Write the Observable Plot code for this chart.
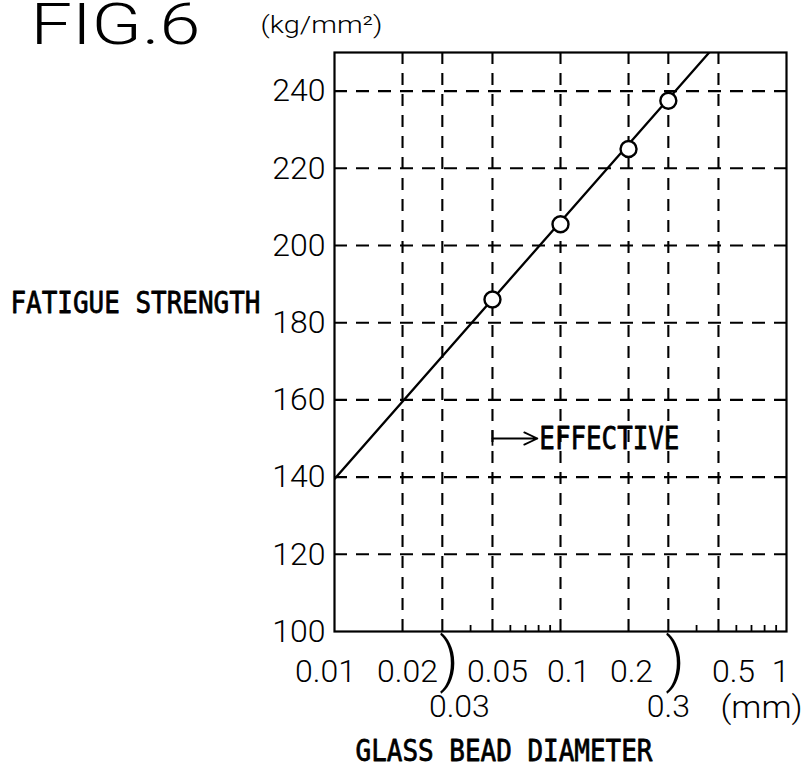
<!DOCTYPE html>
<html>
<head>
<meta charset="utf-8">
<script src="https://cdn.jsdelivr.net/npm/d3@7"></script>
<script src="https://cdn.jsdelivr.net/npm/@observablehq/plot@0.6"></script>
<style>
  html, body { margin: 0; padding: 0; background: #fff; }
</style>
</head>
<body>
<div id="chart"></div>
<script>
// ---- data ----
const yTicks = [100, 120, 140, 160, 180, 200, 220, 240];
const yGridLines = [120, 140, 160, 180, 200, 220, 240];
const xGridLines = [0.02, 0.03, 0.05, 0.1, 0.2, 0.3, 0.5];
const xLabelsRow1 = [0.01, 0.02, 0.05, 0.1, 0.2, 0.5, 1];
const xLabelsRow2 = [0.03, 0.3];
const xMinorTicks = [0.04, 0.06, 0.07, 0.08, 0.09, 0.4, 0.6, 0.7, 0.8, 0.9];

const beadDiameter = [0.05, 0.1, 0.2, 0.3];
const fatigueStrength = [186, 205.5, 225, 237.5];

const fitDiameter = [0.01, 0.455];
const fitStrength = [139.5, 250];

const effectiveFrom = 0.05;
const effectiveTo = 0.079;
const effectiveLevel = 150;

const titleText = "FIG.6";
const unitText = "(kg/mm²)";
const yLabel = "FATIGUE STRENGTH";
const xLabel = "GLASS BEAD DIAMETER";
const xUnit = "(mm)";
const effectiveText = "EFFECTIVE";

// ---- layout ----
const W = 805, H = 769;
const mL = 334, mR = 19, mT = 52, mB = 138;
const frameH = H - mT - mB;

const numFont = "Roboto, DejaVu Sans, sans-serif";
const labelFont = "DejaVu Sans Mono, monospace";
// horizontal nudges of the hand-placed diameter labels (px)
const row1Nudge = [-9, 5, 5, 8, 3, 15, -6];
const row2Nudge = [17, 0];

const points = beadDiameter.map((d, i) => ({d, s: fatigueStrength[i]}));
const fit = fitDiameter.map((d, i) => ({d, s: fitStrength[i]}));
const eff = [{from: effectiveFrom, to: effectiveTo, y: effectiveLevel}];

const labelStyle = {fontFamily: labelFont, fill: "#000", stroke: "#000", strokeWidth: 0.8};

const xLabelMarks = [
  ...xLabelsRow1.map((v, i) => Plot.text([v], {x: d => d, frameAnchor: "bottom", text: d => String(d), lineAnchor: "top", dy: 28, dx: row1Nudge[i], fontSize: 32, fontFamily: numFont, fontWeight: 300})),
  ...xLabelsRow2.map((v, i) => Plot.text([v], {x: d => d, frameAnchor: "bottom", text: d => String(d), lineAnchor: "top", dy: 63, dx: row2Nudge[i], fontSize: 32, fontFamily: numFont, fontWeight: 300}))
];

const chart = Plot.plot({
  width: W,
  height: H,
  marginLeft: mL,
  marginRight: mR,
  marginTop: mT,
  marginBottom: mB,
  style: {background: "#fff", color: "#000", fontFamily: numFont},
  x: {type: "log", domain: [0.01, 1], axis: null},
  y: {domain: [100, 250], axis: null},
  marks: [
    Plot.gridX(xGridLines, {stroke: "#000", strokeOpacity: 1, strokeWidth: 2.1, strokeDasharray: "12,9"}),
    Plot.gridY(yGridLines, {stroke: "#000", strokeOpacity: 1, strokeWidth: 2.1, strokeDasharray: "13,9"}),
    Plot.tickX(xMinorTicks, {x: d => d, insetTop: frameH - 6, stroke: "#000", strokeWidth: 1.8}),
    Plot.frame({stroke: "#000", strokeWidth: 2.2}),
    Plot.axisY(yTicks, {tickSize: 0, tickPadding: 9, fontSize: 32, fontFamily: numFont, fontWeight: 300, label: null, tickFormat: d => String(d)}),
    ...xLabelMarks,
    Plot.text(xLabelsRow2, {x: d => d, frameAnchor: "bottom", text: () => ")", lineAnchor: "top", dy: 6, dx: -3, textAnchor: "start", fontSize: 60, fontFamily: numFont, fontWeight: 300}),
    Plot.line(fit, {x: "d", y: "s", stroke: "#000", strokeWidth: 2.3, clip: true}),
    Plot.dot(points, {x: "d", y: "s", r: 8, stroke: "#000", strokeWidth: 2.4, fill: "#fff"}),
    Plot.arrow(eff, {x1: "from", x2: "to", y1: "y", y2: "y", stroke: "#000", strokeWidth: 1.8, headLength: 12, headAngle: 50}),
    Plot.ruleX(eff, {x: "from", y1: d => d.y - 2, y2: d => d.y + 2, stroke: "#000", strokeWidth: 1.8}),
    Plot.text(eff, {x: "to", y: "y", text: () => effectiveText, textAnchor: "start", lineAnchor: "middle", dx: 2, fontSize: 32, ...labelStyle}),
    // titles and axis names
    Plot.text([titleText], {frameAnchor: "top-left", textAnchor: "start", lineAnchor: "bottom", dx: 30 - mL, dy: 43 - mT, fontSize: 58, fontFamily: numFont, fontWeight: 300}),
    Plot.text([unitText], {frameAnchor: "top-left", textAnchor: "start", lineAnchor: "bottom", dx: 260 - mL, dy: 32 - mT, fontSize: 24, fontFamily: numFont, fontWeight: 300}),
    Plot.text([yLabel], {frameAnchor: "top-left", textAnchor: "start", lineAnchor: "bottom", dx: 10 - mL, dy: 312 - mT, fontSize: 31, ...labelStyle}),
    Plot.text([xLabel], {frameAnchor: "top-left", textAnchor: "start", lineAnchor: "bottom", dx: 355 - mL, dy: 760 - mT, fontSize: 31, ...labelStyle}),
    Plot.text([xUnit], {frameAnchor: "top-left", textAnchor: "start", lineAnchor: "bottom", dx: 720 - mL, dy: 717 - mT, fontSize: 32, fontFamily: numFont, fontWeight: 300})
  ]
});

document.getElementById("chart").appendChild(chart);

// fit text widths to the reference
const fitWidths = new Map([
  [titleText, 170],
  [unitText, 122],
  [yLabel, 250],
  [xLabel, 297],
  [xUnit, 82],
  [effectiveText, 140]
]);
d3.select(chart).selectAll("text").each(function () {
  const t = this.textContent;
  if (fitWidths.has(t) && this.childElementCount === 0) {
    this.setAttribute("textLength", fitWidths.get(t));
    this.setAttribute("lengthAdjust", "spacingAndGlyphs");
  }
});
</script>
</body>
</html>
